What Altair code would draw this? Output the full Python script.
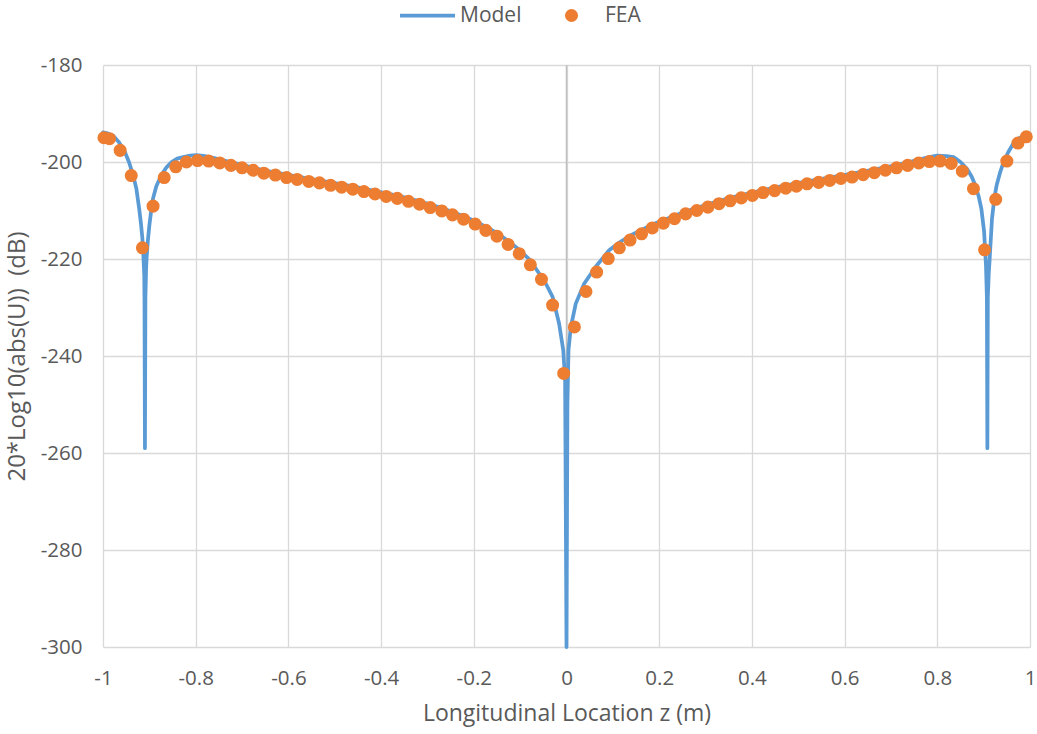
import altair as alt
import pandas as pd

# Finite-element samples along the beam: location z (m) and level (dB)
fea_z = [-0.998, -0.986, -0.963, -0.939, -0.915, -0.892, -0.868, -0.843, -0.820, -0.796,
         -0.772, -0.748, -0.724, -0.700, -0.676, -0.653, -0.628, -0.604, -0.581, -0.556,
         -0.533, -0.509, -0.485, -0.461, -0.437, -0.413, -0.389, -0.365, -0.341, -0.317,
         -0.294, -0.269, -0.246, -0.222, -0.197, -0.174, -0.150, -0.126, -0.102, -0.078,
         -0.054, -0.030, -0.006, 0.017, 0.042, 0.065, 0.090, 0.114, 0.137, 0.162,
         0.185, 0.209, 0.233, 0.257, 0.281, 0.305, 0.329, 0.353, 0.377, 0.401,
         0.424, 0.449, 0.473, 0.496, 0.519, 0.544, 0.568, 0.592, 0.616, 0.640,
         0.664, 0.688, 0.712, 0.736, 0.760, 0.783, 0.806, 0.830, 0.854, 0.878,
         0.902, 0.926, 0.950, 0.974, 0.992]
fea_db = [-195.0, -195.2, -197.6, -202.8, -217.7, -209.1, -203.2, -201.0, -200.0, -199.7,
          -199.8, -200.2, -200.7, -201.2, -201.7, -202.3, -202.7, -203.2, -203.6, -204.0,
          -204.3, -204.8, -205.2, -205.6, -206.1, -206.6, -207.1, -207.5, -208.1, -208.7,
          -209.4, -210.1, -210.9, -211.8, -212.8, -214.1, -215.3, -217.0, -218.9, -221.2,
          -224.2, -229.5, -243.6, -234.0, -226.7, -222.7, -219.9, -217.7, -216.1, -214.8,
          -213.6, -212.6, -211.7, -210.7, -210.0, -209.3, -208.6, -208.0, -207.4, -206.9,
          -206.3, -205.9, -205.4, -205.0, -204.5, -204.2, -203.8, -203.4, -203.1, -202.6,
          -202.2, -201.7, -201.2, -200.7, -200.2, -199.9, -199.8, -200.3, -201.9, -205.5,
          -218.1, -207.7, -199.8, -196.1, -194.8]

# Analytical model curve, sampled densely around the nodes
model_z = [-1.000, -0.990, -0.978, -0.965, -0.953, -0.944, -0.935, -0.928, -0.922, -0.918,
           -0.915, -0.913, -0.911, -0.9105, -0.9095, -0.9085, -0.907, -0.906, -0.903, -0.900,
           -0.896, -0.892, -0.885, -0.874, -0.863, -0.852, -0.840, -0.827, -0.812, -0.798,
           -0.780, -0.760, -0.748, -0.700, -0.653, -0.604, -0.556, -0.509, -0.461, -0.413,
           -0.365, -0.317, -0.269, -0.222, -0.197, -0.174, -0.150, -0.126, -0.102, -0.078,
           -0.059, -0.045, -0.030, -0.016, -0.007, -0.003, 0.000, 0.002, 0.0043, 0.0094,
           0.020, 0.038, 0.063, 0.092, 0.114, 0.137, 0.162, 0.185, 0.209, 0.233,
           0.257, 0.305, 0.353, 0.401, 0.449, 0.496, 0.544, 0.592, 0.640, 0.688,
           0.736, 0.760, 0.783, 0.800, 0.820, 0.835, 0.850, 0.864, 0.874, 0.882,
           0.889, 0.895, 0.901, 0.905, 0.907, 0.908, 0.909, 0.911, 0.913, 0.918,
           0.923, 0.928, 0.935, 0.943, 0.953, 0.964, 0.978, 0.993, 1.000]
model_db = [-193.9, -194.1, -194.6, -196.0, -197.9, -200.0, -202.7, -205.5, -209.6, -212.8,
            -215.8, -219.0, -223.4, -228.0, -259.0, -228.0, -222.0, -219.9, -216.0, -213.1,
            -210.0, -207.5, -205.0, -202.7, -201.1, -200.0, -199.3, -199.0, -198.7, -198.6,
            -198.8, -199.2, -199.5, -200.6, -201.7, -202.6, -203.4, -204.2, -205.0, -206.0,
            -206.9, -208.1, -209.5, -211.2, -212.2, -213.4, -214.6, -216.3, -218.1, -220.3,
            -223.0, -225.0, -227.8, -233.3, -238.8, -245.0, -300.0, -250.0, -238.8, -234.0,
            -229.2, -225.1, -221.6, -218.2, -216.6, -215.2, -214.0, -212.9, -212.0, -211.1,
            -210.2, -208.7, -207.4, -206.3, -205.3, -204.4, -203.6, -202.8, -202.0, -201.1,
            -200.1, -199.5, -199.0, -198.7, -198.8, -199.0, -200.0, -201.4, -203.0, -204.8,
            -207.0, -209.6, -214.4, -221.3, -228.0, -259.0, -228.0, -223.0, -219.9, -211.7,
            -207.5, -204.8, -202.3, -200.0, -198.0, -196.2, -195.0, -194.5, -194.3]

x_ticks = [-1, -0.8, -0.6, -0.4, -0.2, 0, 0.2, 0.4, 0.6, 0.8, 1]
y_ticks = [-300, -280, -260, -240, -220, -200, -180]

FONT = "Open Sans"
TEXT = "#595959"
BLUE = "#5B9BD5"
ORANGE = "#ED7D31"

# Long horizontal stroke for the Model legend key; drawn scaled by sqrt(size)/2
LEGEND_LINE = "M-5,0H5"

fea_df = pd.DataFrame({"z": fea_z, "db": fea_db, "series": "FEA"})
model_df = pd.DataFrame({"z": model_z, "db": model_db, "series": "Model"})
zero_df = pd.DataFrame({"z": [0]})

x_enc = alt.X(
    "z:Q",
    scale=alt.Scale(domain=[-1, 1], nice=False, zero=False),
    axis=alt.Axis(values=x_ticks, labelExpr="datum.value + ''", labelFlush=False,
                  title="Longitudinal Location z (m)",
                  labelPadding=21, titlePadding=14),
)
y_enc = alt.Y(
    "db:Q",
    scale=alt.Scale(domain=[-300, -180], nice=False, zero=False),
    axis=alt.Axis(values=y_ticks, labelExpr="datum.value + ''", labelFlush=False,
                  title="20*Log10(abs(U))\u00a0\u00a0(dB)", titleFontSize=24,
                  labelPadding=21, titlePadding=11),
)

zero_rule = alt.Chart(zero_df).mark_rule(color="#BFBFBF", strokeWidth=1.5).encode(
    x=alt.X("z:Q", scale=alt.Scale(domain=[-1, 1], nice=False, zero=False))
)

model_line = alt.Chart(model_df).mark_line(
    strokeWidth=3.75, strokeCap="round", strokeJoin="round"
).encode(
    x=x_enc,
    y=y_enc,
    color=alt.Color(
        "series:N",
        scale=alt.Scale(domain=["Model"], range=[BLUE]),
        legend=alt.Legend(orient="none", legendX=314, legendY=-60, title=None,
                          symbolType=LEGEND_LINE, symbolSize=121, symbolStrokeWidth=3.75,
                          labelOffset=22, labelFont=FONT, labelFontSize=21,
                          labelColor=TEXT, padding=0),
    ),
)

fea_points = alt.Chart(fea_df).mark_point(filled=True, size=170, opacity=1).encode(
    x=x_enc,
    y=y_enc,
    color=alt.Color(
        "series:N",
        scale=alt.Scale(domain=["FEA"], range=[ORANGE]),
        legend=alt.Legend(orient="none", legendX=458, legendY=-60, title=None,
                          symbolType="circle", symbolSize=170, symbolOpacity=1,
                          labelOffset=23, labelFont=FONT, labelFontSize=21,
                          labelColor=TEXT, padding=0),
    ),
)

chart = (
    alt.layer(zero_rule, model_line, fea_points)
    .resolve_scale(color="independent")
    .properties(
        width=927,
        height=582,
        padding={"left": 103, "top": 65, "right": 7, "bottom": 87},
        autosize=alt.AutoSizeParams(type="none"),
        background="white",
    )
    .configure_view(stroke=None)
    .configure_axis(
        grid=True,
        gridColor="#D9D9D9",
        gridWidth=1.3,
        domain=False,
        ticks=False,
        labelFont=FONT,
        labelFontSize=20.5,
        labelColor=TEXT,
        titleFont=FONT,
        titleFontSize=23,
        titleFontWeight="normal",
        titleColor=TEXT,
    )
)

chart.save("out.html", embed_options={"renderer": "svg", "actions": False})
